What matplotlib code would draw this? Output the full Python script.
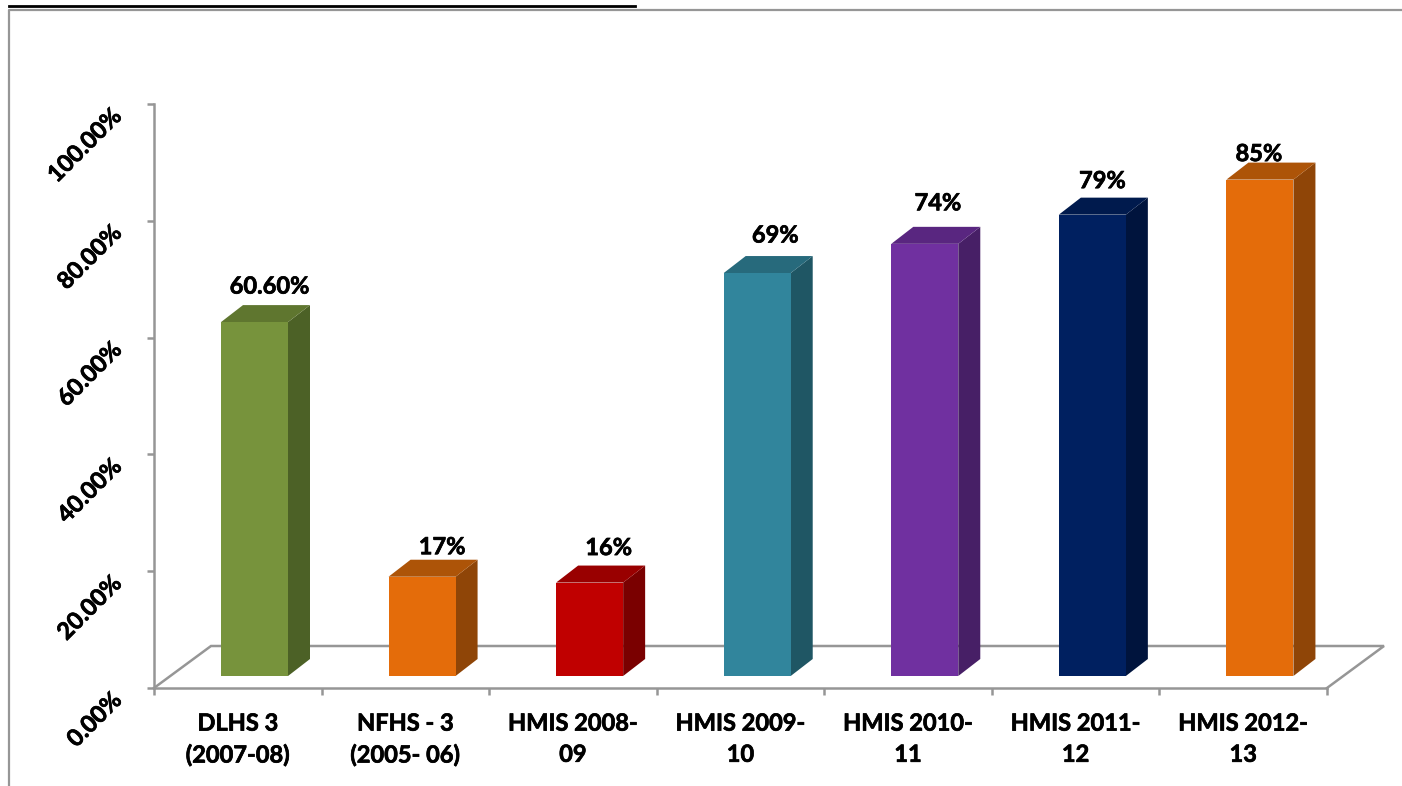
import matplotlib
matplotlib.use('Agg')
import matplotlib.pyplot as plt
import matplotlib.patheffects as pe
from matplotlib.patches import Polygon
from matplotlib.transforms import ScaledTranslation

plt.rcParams['font.family'] = ['Lato', 'DejaVu Sans']

categories = ['DLHS 3\n(2007-08)', 'NFHS - 3\n(2005- 06)', 'HMIS 2008-\n09', 'HMIS 2009-\n10',
              'HMIS 2010-\n11', 'HMIS 2011-\n12', 'HMIS 2012-\n13']
values = [60.6, 17, 16, 69, 74, 79, 85]
value_labels = ['60.60%', '17%', '16%', '69%', '74%', '79%', '85%']
y_ticks = [0, 20, 40, 60, 80, 100]
y_tick_labels = ['0.00%', '20.00%', '40.00%', '60.00%', '80.00%', '100.00%']
front_colors = ['#77933c', '#e46c0a', '#c00000', '#31859c', '#7030a0', '#002060', '#e46c0a']
side_colors = ['#4c6126', '#8f4507', '#7a0000', '#1f5664', '#471f66', '#00143d', '#8f4507']
top_colors = ['#5f762f', '#ad5408', '#990000', '#276a7c', '#592680', '#001a4d', '#ad5408']
# hand placed data labels, offset in pixels
label_dx = [-7, -2, -3, -4, -9, -12, -23]
label_dy = [4, -2, 3, 6, 9, 2, -6]

W, H = 1402, 786
GRAY = '#969696'
bold = [pe.withStroke(linewidth=0.5, foreground='black')]

fig = plt.figure(figsize=(W / 100, H / 100), dpi=100)
# axes box matches the plot area in pixels
ax = fig.add_axes([154 / W, 1 - 688 / H, 1173 / W, 584 / H])
ax.set_xlim(0, 7)
ax.set_ylim(0, 100)
ax.patch.set_visible(False)

# depth of the fake 3d in data units
floor_dx = 57 / 167.57
floor_dy = 42 / 5.84
bar_dx = 22 / 167.57
bar_dy = 17 / 5.84
base = 12 / 5.84
bar_w = 67 / 167.57
bar_off = 100.5 / 167.57 - bar_w / 2

# floor and back line
ax.plot([0, floor_dx, 7 + floor_dx, 7], [0, floor_dy, floor_dy, 0], color=GRAY, lw=1.8,
        clip_on=False, solid_joinstyle='miter', zorder=1)

for i, v in enumerate(values):
    x0 = i + bar_off
    x1 = x0 + bar_w
    y0 = base
    y1 = base + v
    ax.add_patch(Polygon([(x1, y0), (x1 + bar_dx, y0 + bar_dy), (x1 + bar_dx, y1 + bar_dy), (x1, y1)],
                         fc=side_colors[i], ec='none', clip_on=False, zorder=3))
    ax.add_patch(Polygon([(x0, y1), (x0 + bar_dx, y1 + bar_dy), (x1 + bar_dx, y1 + bar_dy), (x1, y1)],
                         fc=top_colors[i], ec='none', clip_on=False, zorder=3))
    ax.add_patch(Polygon([(x0, y0), (x1, y0), (x1, y1), (x0, y1)],
                         fc=front_colors[i], ec='none', clip_on=False, zorder=4))
    ax.annotate(value_labels[i], xy=(x0 + bar_w / 2 + bar_dx, y1 + bar_dy + 0.6),
                xytext=(label_dx[i] * 0.72, label_dy[i] * 0.72), textcoords='offset points',
                ha='center', va='bottom', fontsize=17, fontweight='bold', color='black',
                zorder=5, path_effects=bold)

for s in ['top', 'right']:
    ax.spines[s].set_visible(False)
for s in ['left', 'bottom']:
    ax.spines[s].set_color(GRAY)
    ax.spines[s].set_linewidth(1.8)

ax.set_yticks(y_ticks)
ax.set_yticklabels(y_tick_labels, rotation=45, ha='right', va='top', rotation_mode='anchor',
                   fontsize=17, fontweight='bold', path_effects=bold)
# nudge rotated labels up a little
shift = ScaledTranslation(0, 10 / 100, fig.dpi_scale_trans)
for t in ax.get_yticklabels():
    t.set_transform(t.get_transform() + shift)
ax.set_xticks(range(8))
ax.set_xticklabels([])
ax.set_xticks([i + 0.5 for i in range(7)], minor=True)
ax.set_xticklabels(categories, minor=True, fontsize=17, fontweight='bold', linespacing=1.43,
                   path_effects=bold)
ax.tick_params(axis='y', length=5, width=1.8, color=GRAY, pad=27)
ax.tick_params(axis='x', which='major', length=5, width=1.8, color=GRAY)
ax.tick_params(axis='x', which='minor', length=0, pad=17)

# page furniture: outer chart frame and the cut-off title underline
fig.add_artist(plt.Line2D([9 / W, 9 / W, 1], [0, 1 - 10 / H, 1 - 10 / H], color=GRAY, lw=1.6))
fig.add_artist(plt.Line2D([9 / W, 635 / W], [1 - 6 / H, 1 - 6 / H], color='black', lw=2))

fig.savefig('out.png', dpi=100)
